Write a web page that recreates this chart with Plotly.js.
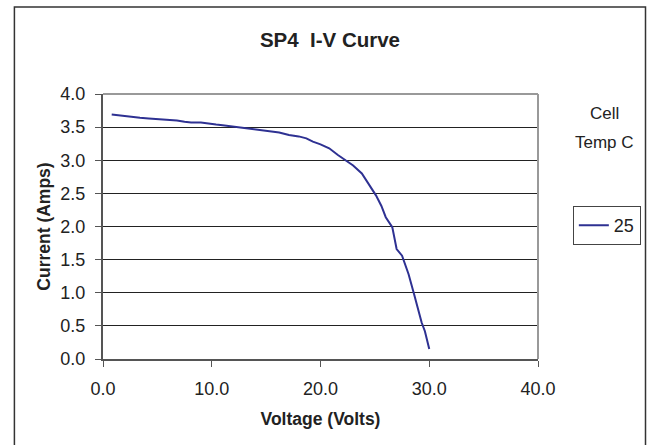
<!DOCTYPE html>
<html>
<head>
<meta charset="utf-8">
<script src="https://cdn.plot.ly/plotly-3.0.1.min.js"></script>
<style>html,body{margin:0;padding:0;background:#fff;}#chart{width:653px;height:445px;}</style>
</head>
<body>
<div id="chart"></div>
<script>
var voltage = [0.8, 1.7, 2.5, 3.4, 4.2, 5.1, 6.0, 6.8, 7.5, 8.1, 9.0, 9.7, 10.4, 11.0, 12.0, 12.9, 13.6, 14.4, 15.3, 16.2, 17.1, 18.0, 18.7, 19.3, 20.0, 20.8, 21.6, 22.3, 23.0, 23.8, 24.5, 25.1, 25.6, 26.0, 26.6, 27.0, 27.5, 28.1, 28.6, 29.0, 29.3, 29.6, 30.0];
var current = [3.69, 3.67, 3.66, 3.64, 3.63, 3.62, 3.61, 3.60, 3.58, 3.57, 3.57, 3.56, 3.54, 3.53, 3.51, 3.49, 3.48, 3.46, 3.44, 3.42, 3.38, 3.36, 3.33, 3.28, 3.24, 3.18, 3.08, 3.00, 2.92, 2.80, 2.63, 2.47, 2.31, 2.14, 1.99, 1.66, 1.56, 1.28, 0.98, 0.75, 0.55, 0.42, 0.15];
var seriesName = "25";
var titleText = "SP4  I-V Curve";
var xTitle = "Voltage (Volts)";
var yTitle = "Current (Amps)";
var legendTitleLines = ["Cell", "Temp C"];

var L = 103, R = 540, T = 94, B = 359;
function px(x){ return (x - L) / (R - L); }
function py(y){ return (B - y) / (B - T); }

var trace = {
  x: voltage, y: current, name: seriesName, type: 'scatter', mode: 'lines',
  line: {color: '#2e3192', width: 2}
};
var layout = {
  width: 653, height: 445,
  margin: {l: L, r: 653 - R, t: T, b: 445 - B},
  paper_bgcolor: '#fff', plot_bgcolor: '#fff',
  font: {family: 'Liberation Sans, Arial, sans-serif', color: '#222', size: 18},
  title: {text: '<b>' + titleText + '</b>', x: px(331), xanchor: 'center', xref: 'paper', y: 1 - 40/445, yanchor: 'middle', font: {size: 20.5, color: '#222'}},
  showlegend: true,
  legend: {x: px(575), y: py(206), xanchor: 'left', yanchor: 'top', bordercolor: '#444', borderwidth: 1,
           font: {size: 18}, bgcolor: '#fff', tracegroupgap: 0, itemwidth: 30},
  xaxis: {range: [0, 40], dtick: 10, tick0: 0, tickformat: '.1f', showgrid: false, zeroline: false,
          showline: true, linecolor: '#555', linewidth: 2, ticks: 'outside', ticklen: 6, tickcolor: '#555',
          ticklabelstandoff: 6,
          tickfont: {size: 18}, title: {text: '<b>' + xTitle + '</b>', font: {size: 17.5}, standoff: 15}},
  yaxis: {range: [0, 4], dtick: 0.5, tick0: 0, tickformat: '.1f', showgrid: true, gridcolor: '#222', gridwidth: 1,
          zeroline: false, showline: true, linecolor: '#555', linewidth: 2, ticks: 'outside', ticklen: 6, tickcolor: '#555',
          ticklabelstandoff: 6,
          tickfont: {size: 18}, title: {text: '<b>' + yTitle + '</b>', font: {size: 17.5}, standoff: 5}},
  shapes: [
    {type: 'line', xref: 'paper', yref: 'paper', x0: 0, x1: 1, y0: 1, y1: 1, line: {color: '#999', width: 2}},
    {type: 'line', xref: 'paper', yref: 'paper', x0: 1, x1: 1, y0: 0, y1: 1, line: {color: '#999', width: 2}},
    {type: 'rect', xref: 'paper', yref: 'paper', x0: px(14), x1: px(648), y0: py(450), y1: py(7), line: {color: '#333', width: 1.5}}
  ],
  annotations: [
    {text: legendTitleLines[0], xref: 'paper', yref: 'paper', x: px(607), y: py(113), xanchor: 'center', yanchor: 'middle',
     showarrow: false, font: {size: 17, color: '#222'}},
    {text: legendTitleLines[1], xref: 'paper', yref: 'paper', x: px(607), y: py(142), xanchor: 'center', yanchor: 'middle',
     showarrow: false, font: {size: 17, color: '#222'}}
  ]
};
Plotly.newPlot('chart', [trace], layout, {displayModeBar: false, staticPlot: true});
</script>
</body>
</html>
